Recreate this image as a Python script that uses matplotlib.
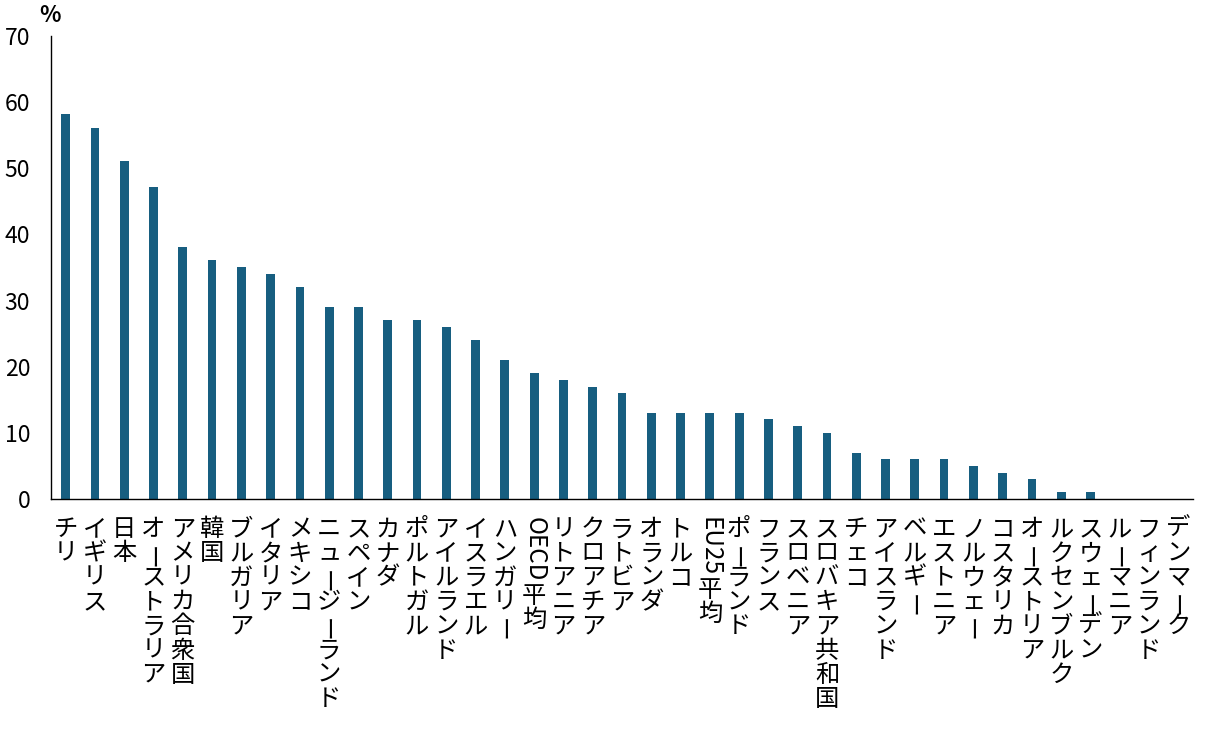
import matplotlib
matplotlib.use("Agg")
import matplotlib.pyplot as plt

plt.rcParams['font.family'] = ['Noto Sans CJK JP', 'DejaVu Sans']

countries = ["チリ", "イギリス", "日本", "オーストラリア", "アメリカ合衆国", "韓国", "ブルガリア",
             "イタリア", "メキシコ", "ニュージーランド", "スペイン", "カナダ", "ポルトガル",
             "アイルランド", "イスラエル", "ハンガリー", "OECD平均", "リトアニア", "クロアチア",
             "ラトビア", "オランダ", "トルコ", "EU25平均", "ポーランド", "フランス", "スロベニア",
             "スロバキア共和国", "チェコ", "アイスランド", "ベルギー", "エストニア", "ノルウェー",
             "コスタリカ", "オーストリア", "ルクセンブルク", "スウェーデン", "ルーマニア",
             "フィンランド", "デンマーク"]
values = [58.2, 56.1, 51.1, 47.2, 38.1, 36.1, 35.1, 34.0, 32.0, 29.0, 29.0, 27.0, 27.0,
          26.0, 24.0, 21.0, 19.0, 18.0, 17.0, 16.0, 13.0, 13.0, 13.0, 13.0, 12.1, 11.0,
          10.0, 7.0, 6.0, 6.0, 6.0, 5.0, 4.0, 3.0, 1.0, 1.0, 0.0, 0.0, 0.0]
yticks = [0, 10, 20, 30, 40, 50, 60, 70]

W, H = 1206, 732
fig = plt.figure(figsize=(W / 100, H / 100), dpi=100)
ax = fig.add_axes([51 / W, 1 - 499 / H, (1193 - 51) / W, (499 - 36) / H])

x = list(range(len(countries)))
ax.bar(x, values, width=0.3, color='#175e80')
ax.set_xlim(-0.5, len(countries) - 0.5)
ax.set_ylim(0, 70)
ax.set_yticks(yticks)
ax.set_yticklabels([str(v) for v in yticks], fontsize=16.5)
ax.set_xticks([])
ax.tick_params(axis='y', length=0, pad=15)
for s in ['top', 'right']:
    ax.spines[s].set_visible(False)
for s in ['left', 'bottom']:
    ax.spines[s].set_linewidth(1.0)
    ax.spines[s].set_color('black')

fig.text(50 / W, 1 - 15 / H, '%', fontsize=16, fontweight='bold', ha='center', va='center')

PX = 0.72  # points per pixel
step = 24.3
gap = 18
fs = 17.5
fig.canvas.draw()
renderer = fig.canvas.get_renderer()

def runs(label):
    out = []
    buf = ''
    for ch in label:
        if ch.isascii():
            buf += ch
        else:
            if buf:
                out.append(buf)
                buf = ''
            out.append(ch)
    if buf:
        out.append(buf)
    return out

for i, lab in enumerate(countries):
    y = gap
    for r in runs(lab):
        if r.isascii():
            t = ax.annotate(r, xy=(i, 0), xycoords=('data', 'axes fraction'),
                            xytext=(0, -y * PX), textcoords='offset points',
                            ha='center', va='top', rotation=-90, fontsize=fs,
                            annotation_clip=False)
            ext = t.get_window_extent(renderer)
            y += ext.height + 2
        else:
            rot, dx = (90, 2.5) if r == 'ー' else (0, 0)
            ax.annotate(r, xy=(i, 0), xycoords=('data', 'axes fraction'),
                        xytext=(dx * PX, -(y + step / 2) * PX), textcoords='offset points',
                        ha='center', va='center', rotation=rot, fontsize=fs,
                        annotation_clip=False)
            y += step

fig.savefig('out.png', dpi=100)
